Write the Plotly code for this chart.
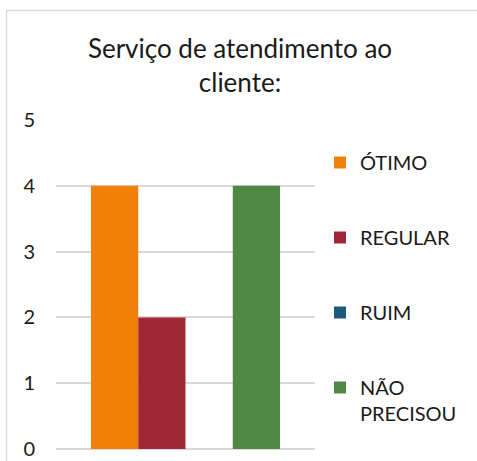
import plotly.graph_objects as go

categories = ["Atendimento"]
series_names = ["ÓTIMO", "REGULAR", "RUIM", "NÃO<br>PRECISOU"]
series_values = [[4], [2], [0], [4]]
series_colors = ["#F08009", "#A02736", "#1D5A7E", "#4F8744"]
y_ticks = [0, 1, 2, 3, 4, 5]
title_text = "Serviço de atendimento ao<br>cliente:"

FONT = "Lato"
W, H = 477, 461
L, R, T, B = 56, 315, 120, 449
pw, ph = R - L, B - T

fig = go.Figure()
for i, (name, vals, col) in enumerate(zip(series_names, series_values, series_colors)):
    fig.add_trace(go.Bar(x=categories, y=vals, name=name, marker_color=col,
                         marker_line_width=0, legendgroup=f"g{i}"))

def px_x(x):
    return (x - L) / pw

def px_y(y):
    return (B - y) / ph

fig.update_layout(
    width=W, height=H,
    margin=dict(l=L, r=W - R, t=T, b=H - B, pad=0, autoexpand=False),
    paper_bgcolor="white", plot_bgcolor="white",
    font=dict(family=FONT, color="#1a1a1a", size=20),
    barmode="group", bargap=0.27, bargroupgap=0,
    title=dict(text=title_text, font=dict(family=FONT, size=26, color="#1a1a1a"),
               x=240 / W, xanchor="center", xref="container",
               y=1 - 58 / H, yanchor="middle", yref="container", automargin=False),
    legend=dict(xref="container", yref="container", x=320 / W, y=1 - 143 / H,
                xanchor="left", yanchor="top", font=dict(family=FONT, size=20, color="#1a1a1a"),
                tracegroupgap=46, valign="top", bgcolor="rgba(0,0,0,0)", maxheight=420),
    showlegend=True,
    shapes=[dict(type="rect", xref="paper", yref="paper",
                 x0=px_x(6.5), x1=px_x(600), y0=px_y(600), y1=px_y(10.5),
                 line=dict(color="#d9d9d9", width=1.5), fillcolor="rgba(0,0,0,0)", layer="below")],
)
fig.update_xaxes(showticklabels=False, showgrid=False, zeroline=False, showline=False, ticks="",
                 automargin=False)
fig.update_yaxes(range=[0, 5], tickvals=y_ticks, showgrid=True, gridcolor="#d9d9d9", gridwidth=1.5,
                 zeroline=True, zerolinecolor="#d9d9d9", zerolinewidth=1.5, showline=False,
                 ticks="", ticklabelstandoff=20, automargin=False,
                 tickfont=dict(family=FONT, size=20, color="#1a1a1a"))

fig.write_html("out.html", config={"displayModeBar": False},
               post_script="document.body.style.margin='0';document.body.style.overflow='hidden';")
